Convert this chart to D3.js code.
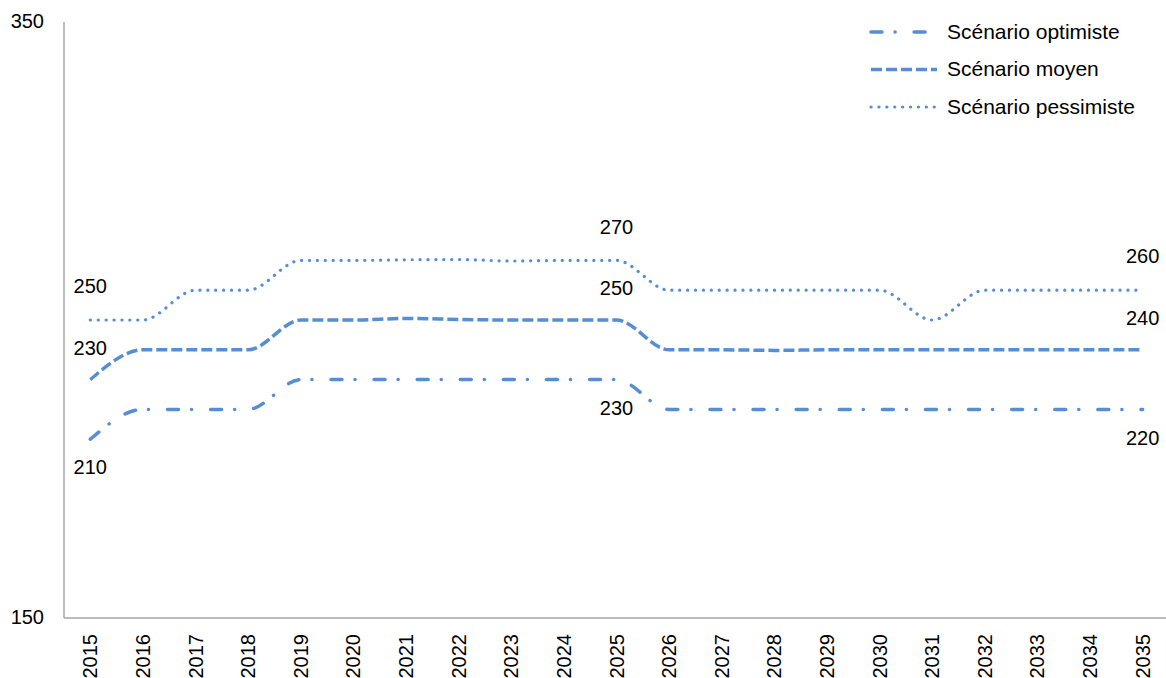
<!DOCTYPE html>
<html>
<head>
<meta charset="utf-8">
<script src="https://cdn.jsdelivr.net/npm/d3@7"></script>
<style>
  body { margin: 0; background: #fff; }
  text { font-family: "Liberation Sans", Arial, sans-serif; fill: #000; }
</style>
</head>
<body>
<div id="chart"></div>
<script>
const years = d3.range(2015, 2036).map(String);
const optimiste = [210, 220, 220, 220, 230, 230, 230, 230, 230, 230, 230, 220, 220, 220, 220, 220, 220, 220, 220, 220, 220];
const moyen = [230, 240, 240, 240, 250, 250, 250.5, 250.2, 250, 250, 250, 240, 240, 239.8, 240, 240, 240, 240, 240, 240, 240];
const pessimiste = [250, 250, 260, 260, 270, 270, 270.2, 270.3, 269.8, 270, 270, 260, 260, 260, 260, 260, 250, 260, 260, 260, 260];
const seriesNames = ["Scénario optimiste", "Scénario moyen", "Scénario pessimiste"];
const labelYears = ["2015", "2025", "2035"];
const yTicks = [150, 350];

const width = 1166, height = 678;
const color = "#558ed5";

const series = [
  { name: seriesNames[0], values: optimiste, dash: "11 13 0.1 19", cap: "round", w: 3.5, labelDy: 30 },
  { name: seriesNames[1], values: moyen, dash: "11 4", cap: "butt", w: 3.5, labelDy: -30 },
  { name: seriesNames[2], values: pessimiste, dash: "0.1 7.8", cap: "round", w: 3.2, labelDy: -32 }
];

const svg = d3.select("#chart").append("svg")
  .attr("width", width)
  .attr("height", height);

const x = d3.scaleBand().domain(years).range([64, 1169]);
const y = d3.scaleLinear().domain([150, 350]).range([618, 22]);
const cx = d => x(d) + x.bandwidth() / 2;

// axes
svg.append("line")
  .attr("x1", 64).attr("x2", 64)
  .attr("y1", y(350)).attr("y2", y(150))
  .attr("stroke", "#a6a6a6").attr("stroke-width", 1.5);
svg.append("line")
  .attr("x1", 64).attr("x2", width)
  .attr("y1", y(150)).attr("y2", y(150))
  .attr("stroke", "#a6a6a6").attr("stroke-width", 1.5);

svg.selectAll(".ylab")
  .data(yTicks)
  .enter().append("text")
  .attr("x", 44)
  .attr("y", d => y(d) + 1)
  .attr("text-anchor", "end")
  .attr("dominant-baseline", "middle")
  .style("font-size", "20px")
  .text(d => d);

svg.selectAll(".xlab")
  .data(years)
  .enter().append("text")
  .attr("transform", d => `translate(${cx(d) + 7},${y(150) + 16}) rotate(-90)`)
  .attr("text-anchor", "end")
  .style("font-size", "20px")
  .text(d => d);

// lines
const line = d3.line()
  .x((d, i) => cx(years[i]))
  .y(d => y(d))
  .curve(d3.curveMonotoneX);

series.forEach(s => {
  svg.append("path")
    .attr("d", line(s.values))
    .attr("fill", "none")
    .attr("stroke", color)
    .attr("stroke-width", s.w)
    .attr("stroke-linecap", s.cap)
    .attr("stroke-dasharray", s.dash);

  svg.selectAll(null)
    .data(labelYears)
    .enter().append("text")
    .attr("x", d => cx(d))
    .attr("y", d => y(s.values[years.indexOf(d)]) + s.labelDy)
    .attr("text-anchor", "middle")
    .attr("dominant-baseline", "middle")
    .style("font-size", "20px")
    .text(d => Math.round(s.values[years.indexOf(d)]));
});

// legend
const legend = svg.append("g");
series.forEach((s, i) => {
  const ly = 32 + i * 37.5;
  legend.append("line")
    .attr("x1", 871).attr("x2", 937)
    .attr("y1", ly).attr("y2", ly)
    .attr("stroke", color)
    .attr("stroke-width", s.w)
    .attr("stroke-linecap", s.cap)
    .attr("stroke-dasharray", s.dash);
  legend.append("text")
    .attr("x", 947)
    .attr("y", ly + 1)
    .attr("dominant-baseline", "middle")
    .style("font-size", "21px")
    .text(s.name);
});
</script>
</body>
</html>
